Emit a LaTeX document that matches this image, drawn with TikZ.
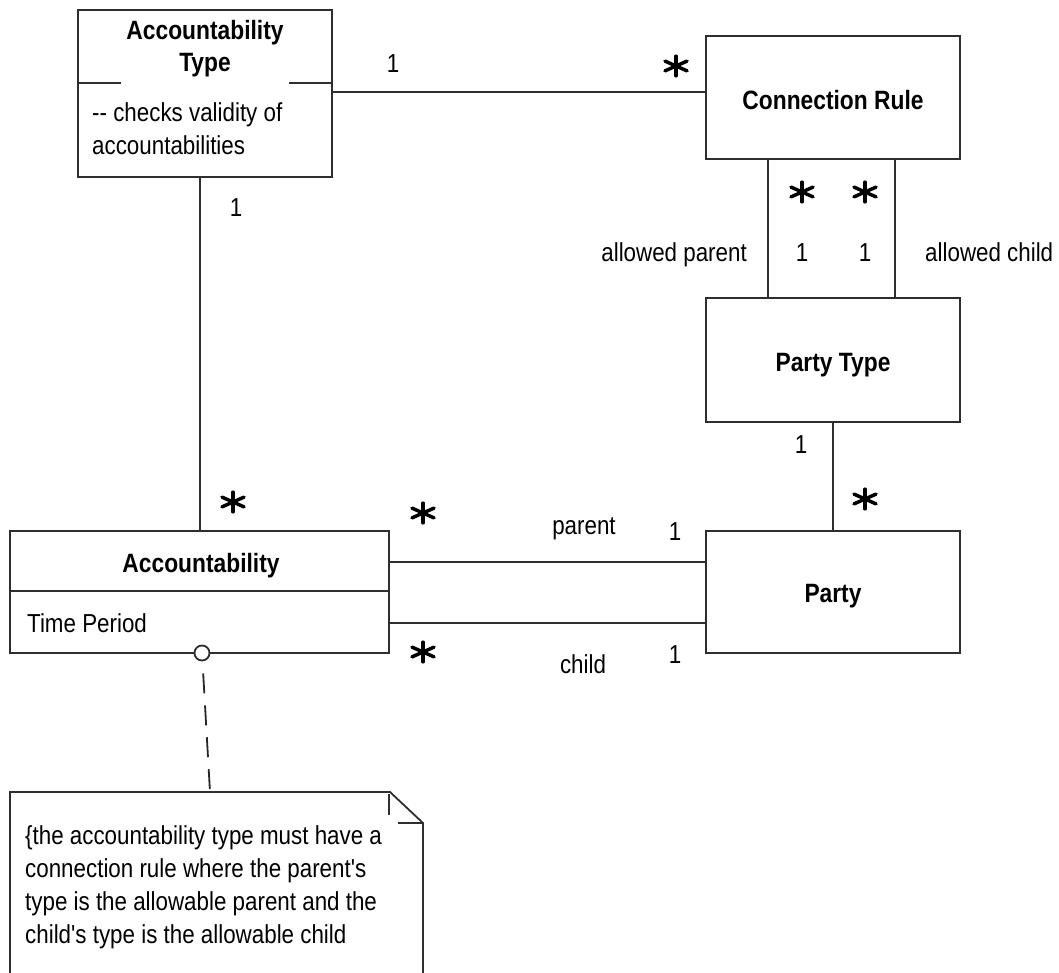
\documentclass[tikz,border=0pt]{standalone}
\usepackage{fontspec}
% Arial-metric face, slightly condensed; no TeX ligatures so "--" and "'" stay literal
\newfontfamily\umlfont{Liberation Sans}[FakeStretch=0.86]
\tikzset{
  ink/.style={draw=black!82, line width=1.8pt},
  box/.style={ink, rectangle, inner sep=0pt},
  conn/.style={ink},
  txt/.style={font=\umlfont\fontsize{26}{33}\selectfont, text=black, inner sep=0pt, anchor=base},
  ttl/.style={txt, font=\umlfont\bfseries\fontsize{26.5}{33}\selectfont},
  lft/.style={txt, anchor=base west},
  rgt/.style={txt, anchor=base east},
  many/.style={minimum width=30pt, minimum height=26pt, inner sep=0pt,
    path picture={
      \foreach \a in {30,90,...,330}
        \draw[black, line width=3.5pt, line cap=round]
          (path picture bounding box.center) -- ++({1.3*9.8*cos(\a)},{9.8*sin(\a)});
    }},
  notelink/.style={draw=black!85, line width=1.8pt, dash pattern=on 20pt off 12pt, dash phase=20pt},
}
\begin{document}
\begin{tikzpicture}[x=1pt,y=-1pt]
\useasboundingbox (0,0) rectangle (1059,973);

% classes
\node[box, minimum width=254pt, minimum height=167pt] (acctype) at (205,93.5) {};
\node[box, minimum width=254pt, minimum height=123pt] (connrule) at (833,97.5) {};
\node[box, minimum width=254pt, minimum height=124pt] (ptype) at (833,360) {};
\node[box, minimum width=254pt, minimum height=122pt] (party) at (833,592) {};
\node[box, minimum width=379pt, minimum height=122pt] (acc) at (199.5,592) {};

% compartment separators
\draw[conn] (acctype.west |- 0,83) -- ++(44,0);
\draw[conn] (acctype.east |- 0,83) -- ++(-44,0);
\draw[conn] (acc.west |- 0,591) -- (acc.east |- 0,591);

% class texts
\node[ttl] (acctypeA) at (205,40) {Accountability};
\node[ttl] (acctypeB) at (205,72) {Type};
\node[lft] (acctypeC) at (92,122) {--\ checks validity of};
\node[lft] (acctypeD) at (92,155) {accountabilities};
\node[ttl] (connruleT) at (833,110) {Connection Rule};
\node[ttl] (ptypeT) at (833,371) {Party Type};
\node[ttl] (partyT) at (833,602) {Party};
\node[ttl] (accT) at (201,572) {Accountability};
\node[lft] (accA) at (27,632) {Time Period};

% associations
\draw[conn] (acctype.east |- 0,92) -- (connrule.west |- 0,92);
\draw[conn] (acc.north -| 200,0) -- (acctype.south -| 200,0);
\draw[conn] (connrule.south -| 768,0) -- (ptype.north -| 768,0);
\draw[conn] (connrule.south -| 895,0) -- (ptype.north -| 895,0);
\draw[conn] (ptype.south) -- (party.north);
\draw[conn] (acc.east |- 0,562) -- (party.west |- 0,562);
\draw[conn] (acc.east |- 0,623) -- (party.west |- 0,623);

% multiplicities and role names
\node[txt] (m1) at (393,73) {1};
\node[many] (m2) at (676,66) {};
\node[txt] (m3) at (236,217) {1};
\node[many] (m4) at (233,502) {};
\node[many] (m5) at (802,192) {};
\node[many] (m6) at (865,192) {};
\node[txt] (m7) at (802,262) {1};
\node[txt] (m8) at (865,262) {1};
\node[rgt] (r1) at (747,262) {allowed parent};
\node[lft] (r2) at (925,262) {allowed child};
\node[txt] (m9) at (801,453) {1};
\node[many] (m10) at (865,499) {};
\node[many] (m11) at (423,513) {};
\node[txt] (r3) at (584,534) {parent};
\node[txt] (m12) at (675,540) {1};
\node[many] (m13) at (423,652) {};
\node[txt] (r4) at (583,673) {child};
\node[txt] (m14) at (675,663) {1};

% constraint note
\draw[ink, line join=miter] (10,973) -- (10,792) -- (390,792) -- (423,823) -- (423,973);
\draw[ink] (389,794) -- (389,815);
\draw[ink] (398,823) -- (422,823);
\node[lft] (n1) at (25,844) {\{the accountability type must have a};
\node[lft] (n2) at (25,877) {connection rule where the parent's};
\node[lft] (n3) at (25,910) {type is the allowable parent and the};
\node[lft] (n4) at (25,943) {child's type is the allowable child};

% note attachment
\node[circle, ink, fill=white, minimum size=15pt, inner sep=0pt] (ring) at (202,653) {};
\coordinate (notetop) at (210,792);
\draw[notelink] (ring) -- (notetop);
\end{tikzpicture}
\end{document}
